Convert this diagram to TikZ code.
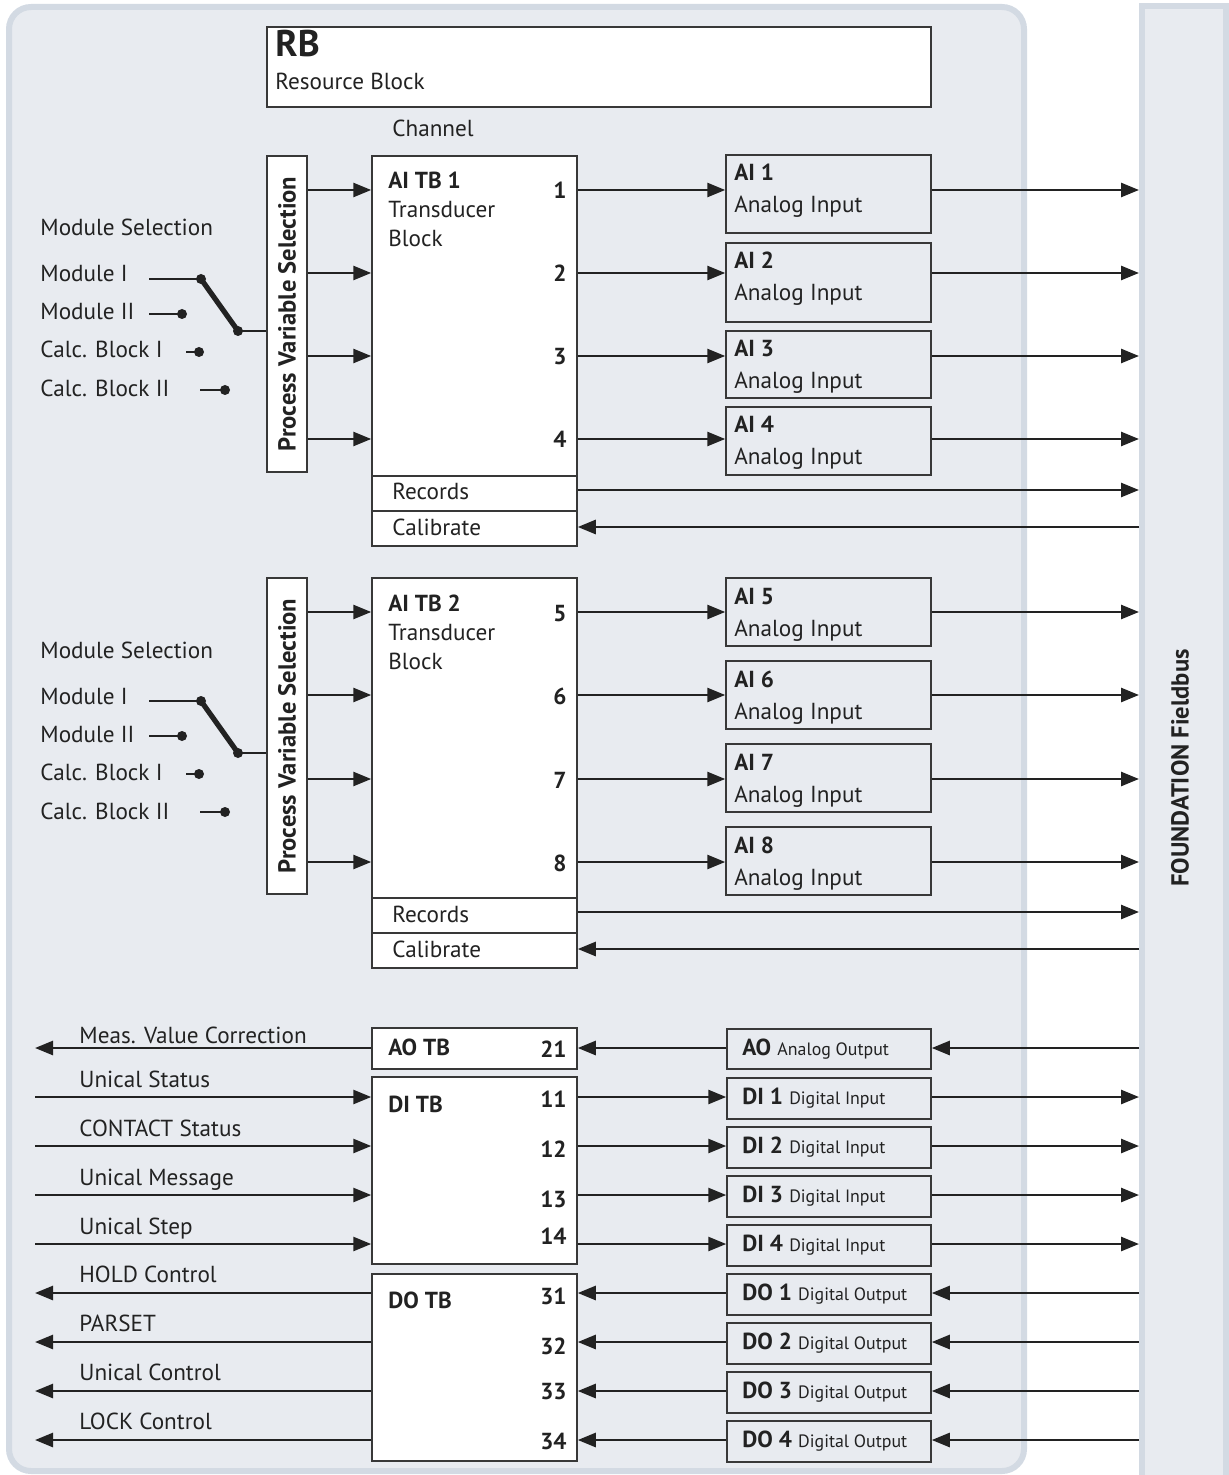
\documentclass[tikz,border=0pt]{standalone}
\usepackage{fontspec}
\setmainfont{PT Sans}[Scale=1.16]
\usetikzlibrary{arrows.meta, fit}
\definecolor{panelfill}{HTML}{E8EBF0}
\definecolor{panelline}{HTML}{D3DAE3}
\definecolor{inkgray}{HTML}{222222}
\definecolor{boxline}{HTML}{383838}

\begin{document}
\begin{tikzpicture}[x=0.5pt, y=-0.5pt,
    panel/.style={draw=panelline, fill=panelfill, line width=3pt, inner sep=0pt},
    wbox/.style={draw=boxline, fill=white, line width=0.75pt, inner sep=0pt},
    gbox/.style={draw=boxline, fill=panelfill, line width=0.75pt, inner sep=0pt},
    txt/.style={anchor=base west, inner sep=0pt, text=inkgray},
    num/.style={anchor=base east, inner sep=0pt, text=inkgray, font=\bfseries},
    vlabel/.style={rotate=90, text=inkgray, font=\fontsize{10.6}{12}\selectfont\bfseries},
    arr/.style={-{Triangle[length=9pt,width=7pt]}, line width=1.3pt, draw=inkgray},
    wire/.style={line width=1.3pt, draw=inkgray}]
    \useasboundingbox (0,0) rectangle (1229,1475);

    % device and bus panels
    \node[panel, rounded corners=11pt, fit={(9,7) (1024,1471)}] (dev) {};
    \node[panel, fit={(1142,6) (1226,1495)}] (bus) {};
    \node[vlabel] (bustxt) at (1180,768) {FOUNDATION Fieldbus};

    % resource block
    \node[wbox, fit={(267,27) (931,107)}] (rb) {};
    \node[txt, font=\fontsize{16}{18}\selectfont\bfseries] (rbtxt) at (275,57) {RB};
    \node[txt] (rbname) at (275,90) {Resource Block};
    \node[anchor=base, inner sep=0pt, text=inkgray] (chan) at (433,137) {Channel};

    % two analog transducer groups
    \foreach \grp/\dy in {1/0, 2/422} {
        \node[wbox, fit={(267,156+\dy) (307,472+\dy)}] (pvs\grp) {};
        \node[vlabel] (pvstxt\grp) at (pvs\grp.center) {Process Variable Selection};
        \node[wbox, fit={(372,156+\dy) (577,546+\dy)}] (tb\grp) {};
        \coordinate (rec\grp) at (0,476+\dy);
        \coordinate (cal\grp) at (0,511+\dy);
        \draw[boxline, line width=0.75pt] (tb\grp.west |- rec\grp) -- (tb\grp.east |- rec\grp);
        \draw[boxline, line width=0.75pt] (tb\grp.west |- cal\grp) -- (tb\grp.east |- cal\grp);
        \node[txt, font=\bfseries] (tbname\grp) at (388,189+\dy) {AI TB \grp};
        \node[txt] (tbtr\grp) at (388,218+\dy) {Transducer};
        \node[txt] (tbbl\grp) at (388,247+\dy) {Block};
        \node[txt] (rectxt\grp) at (392,500+\dy) {Records};
        \node[txt] (caltxt\grp) at (392,535+\dy) {Calibrate};

        \coordinate (recy\grp) at (0,490+\dy);
        \coordinate (caly\grp) at (0,527+\dy);
        \draw[arr] (tb\grp.east |- recy\grp) -- (bus.west |- recy\grp);
        \draw[arr] (bus.west |- caly\grp) -- (tb\grp.east |- caly\grp);

        % module selection switch
        \node[txt] (msel\grp) at (40,236+\dy) {Module Selection};
        \node[txt] (mod1\grp) at (40,282+\dy) {Module I};
        \node[txt] (mod2\grp) at (40,320+\dy) {Module II};
        \node[txt] (calc1\grp) at (40,358+\dy) {Calc. Block I};
        \node[txt] (calc2\grp) at (40,397+\dy) {Calc. Block II};
        \coordinate (m1a\grp) at (149,279+\dy);
        \coordinate (m1b\grp) at (201,279+\dy);
        \coordinate (sw\grp) at (238,331+\dy);
        \coordinate (m2a\grp) at (149,314+\dy);
        \coordinate (m2b\grp) at (182,314+\dy);
        \coordinate (c1a\grp) at (186,352+\dy);
        \coordinate (c1b\grp) at (199,352+\dy);
        \coordinate (c2a\grp) at (200,390+\dy);
        \coordinate (c2b\grp) at (225,390+\dy);
        \draw[wire] (m1a\grp) -- (m1b\grp);
        \draw[wire, line width=2.6pt] (m1b\grp) -- (sw\grp);
        \draw[wire] (sw\grp) -- (pvs\grp.west |- sw\grp);
        \draw[wire] (m2a\grp) -- (m2b\grp);
        \draw[wire] (c1a\grp) -- (c1b\grp);
        \draw[wire] (c2a\grp) -- (c2b\grp);
        \foreach \pt in {m1b, sw, m2b, c1b, c2b}
            \fill[inkgray] (\pt\grp) circle (2.5pt);
    }

    % analog input channels
    \foreach \ch/\grp/\yc/\ya/\yb in {1/1/190/155/233, 2/1/273/243/322, 3/1/356/331/398,
            4/1/439/407/475, 5/2/612/578/646, 6/2/695/661/729, 7/2/779/744/812, 8/2/862/827/895} {
        \coordinate (ch\ch) at (0,\yc);
        \node[gbox, fit={(726,\ya) (931,\yb)}] (ai\ch) {};
        \node[txt, font=\bfseries] (ailbl\ch) at (734,\ya+26) {AI \ch};
        \node[txt] (aidesc\ch) at (734,\ya+58) {Analog Input};
        \node[num] (port\ch) at (567,\yc+9) {\ch};
        \draw[arr] (pvs\grp.east |- ch\ch) -- (tb\grp.west |- ch\ch);
        \draw[arr] (tb\grp.east |- ch\ch) -- (ai\ch.west |- ch\ch);
        \draw[arr] (ai\ch.east |- ch\ch) -- (bus.west |- ch\ch);
    }

    % analog output
    \node[wbox, fit={(372,1028) (577,1069)}] (aotb) {};
    \node[txt, font=\bfseries] (aotbtxt) at (388,1055) {AO TB};
    \node[num] (port21) at (567,1057) {21};
    \node[gbox, fit={(727,1029) (931,1069)}] (ao) {};
    \node[txt] (aotxt) at (742,1055) {\textbf{AO} {\fontsize{7.7}{9}\selectfont Analog Output}};
    \node[txt] (meas) at (79,1043) {Meas. Value Correction};
    \coordinate (aoy) at (0,1048);
    \coordinate (measend) at (35,1048);
    \draw[arr] (bus.west |- aoy) -- (ao.east |- aoy);
    \draw[arr] (ao.west |- aoy) -- (aotb.east |- aoy);
    \draw[arr] (aotb.west |- aoy) -- (measend);

    % discrete inputs
    \node[wbox, fit={(372,1077) (577,1264)}] (ditb) {};
    \node[txt, font=\bfseries] (ditbtxt) at (388,1112) {DI TB};
    \foreach \i/\yc/\ya/\nb/\lbl in {1/1097/1078/1107/Unical Status, 2/1146/1127/1157/CONTACT Status,
            3/1195/1176/1207/Unical Message, 4/1244/1225/1244/Unical Step} {
        \coordinate (diy\i) at (0,\yc);
        \coordinate (diin\i) at (35,\yc);
        \node[gbox, fit={(727,\ya) (931,\ya+41)}] (di\i) {};
        \node[txt] (ditxt\i) at (742,\ya+26) {\textbf{DI \i} {\fontsize{7.7}{9}\selectfont Digital Input}};
        \node[num] (port1\i) at (567,\nb) {1\i};
        \node[txt] (dilbl\i) at (79,\yc-10) {\lbl};
        \draw[arr] (diin\i) -- (ditb.west |- diy\i);
        \draw[arr] (ditb.east |- diy\i) -- (di\i.west |- diy\i);
        \draw[arr] (di\i.east |- diy\i) -- (bus.west |- diy\i);
    }

    % discrete outputs
    \node[wbox, fit={(372,1274) (577,1461)}] (dotb) {};
    \node[txt, font=\bfseries] (dotbtxt) at (388,1308) {DO TB};
    \foreach \i/\yc/\ya/\nb/\lbl in {1/1293/1274/1304/HOLD Control, 2/1342/1323/1354/PARSET,
            3/1391/1372/1399/Unical Control, 4/1440/1421/1449/LOCK Control} {
        \coordinate (doy\i) at (0,\yc);
        \coordinate (doout\i) at (35,\yc);
        \node[gbox, fit={(727,\ya) (931,\ya+41)}] (do\i) {};
        \node[txt] (dotxt\i) at (742,\ya+26) {\textbf{DO \i} {\fontsize{7.7}{9}\selectfont Digital Output}};
        \node[num] (port3\i) at (567,\nb) {3\i};
        \node[txt] (dolbl\i) at (79,\yc-11) {\lbl};
        \draw[arr] (bus.west |- doy\i) -- (do\i.east |- doy\i);
        \draw[arr] (do\i.west |- doy\i) -- (dotb.east |- doy\i);
        \draw[arr] (dotb.west |- doy\i) -- (doout\i);
    }
\end{tikzpicture}
\end{document}
